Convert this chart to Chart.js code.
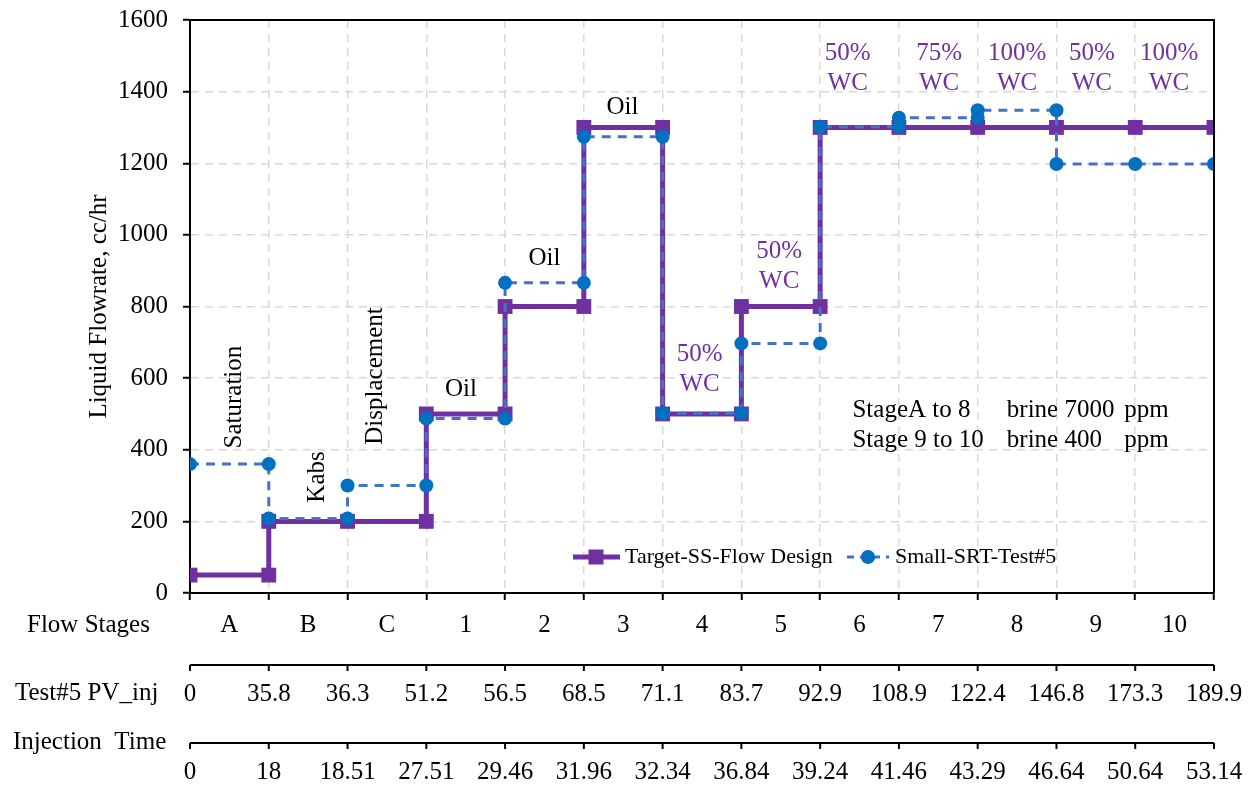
<!DOCTYPE html>
<html>
<head>
<meta charset="utf-8">
<script src="https://cdn.jsdelivr.net/npm/chart.js@4"></script>
<style>
  body { margin: 0; background: #fff; }
  #wrap { width: 1250px; height: 786px; }
</style>
</head>
<body>
<div id="wrap"><canvas id="flowChart" width="1250" height="786"></canvas></div>
<script>
// flow stages (between boundaries) and the two extra rows of boundary labels
const stages = ['A', 'B', 'C', '1', '2', '3', '4', '5', '6', '7', '8', '9', '10'];
const pvInj = ['0', '35.8', '36.3', '51.2', '56.5', '68.5', '71.1', '83.7', '92.9', '108.9', '122.4', '146.8', '173.3', '189.9'];
const injTime = ['0', '18', '18.51', '27.51', '29.46', '31.96', '32.34', '36.84', '39.24', '41.46', '43.29', '46.64', '50.64', '53.14'];

// step series: x = boundary index, y = flowrate cc/hr
const targetX = [0, 1, 1, 2, 3, 3, 4, 4, 5, 5, 6, 6, 7, 7, 8, 8, 9, 10, 11, 12, 13];
const targetY = [50, 50, 200, 200, 200, 500, 500, 800, 800, 1300, 1300, 500, 500, 800, 800, 1300, 1300, 1300, 1300, 1300, 1300];
const testX = [0, 1, 1, 2, 2, 3, 3, 4, 4, 5, 5, 6, 6, 7, 7, 8, 8, 9, 9, 10, 10, 11, 11, 12, 13];
const testY = [360, 360, 208, 208, 300, 300, 487, 487, 866, 866, 1274, 1274, 502, 502, 697, 697, 1302, 1302, 1327, 1327, 1348, 1348, 1198, 1198, 1198];

const yTicks = [0, 200, 400, 600, 800, 1000, 1200, 1400, 1600];

// text notes inside the plot (x in stage index, y in cc/hr)
const blackNotes = [
    { text: 'Saturation', x: 0.57, y: 547, rotate: true },
    { text: 'Kabs', x: 1.62, y: 324, rotate: true },
    { text: 'Displacement', x: 2.35, y: 606, rotate: true },
    { text: 'Oil', x: 3.44, y: 568 },
    { text: 'Oil', x: 4.5, y: 935 },
    { text: 'Oil', x: 5.49, y: 1357 }
];
const wcNotes = [
    { text: '50%', x: 6.47, y: 623 },
    { text: '50%', x: 7.48, y: 913 },
    { text: '50%', x: 8.35, y: 1466 },
    { text: '75%', x: 9.51, y: 1466 },
    { text: '100%', x: 10.5, y: 1466 },
    { text: '50%', x: 11.45, y: 1466 },
    { text: '100%', x: 12.43, y: 1466 }
];
const brineNotes = [
    ['StageA to 8', 'brine 7000', 'ppm'],
    ['Stage 9 to 10', 'brine 400', 'ppm']
];

const PURPLE = '#7030A0';
const BLUE = '#0070C0';
const BLUE_LINE = '#4472C4';
const FONT = '"Liberation Serif", "Times New Roman", serif';

Chart.defaults.font.family = FONT;
Chart.defaults.color = '#000';

const extras = {
    id: 'extras',
    afterDatasetsDraw(chart) {
        const ctx = chart.ctx;
        const xs = chart.scales.x;
        const ys = chart.scales.y;
        const area = chart.chartArea;
        ctx.save();

        // frame: top and right sides
        ctx.strokeStyle = '#000';
        ctx.lineWidth = 2;
        ctx.beginPath();
        ctx.moveTo(area.left, area.top);
        ctx.lineTo(area.right, area.top);
        ctx.lineTo(area.right, area.bottom);
        ctx.stroke();

        // notes
        ctx.font = '25px ' + FONT;
        ctx.textAlign = 'center';
        ctx.textBaseline = 'middle';
        ctx.fillStyle = '#000';
        blackNotes.forEach(n => {
            const px = xs.getPixelForValue(n.x);
            const py = ys.getPixelForValue(n.y);
            ctx.save();
            ctx.translate(px, py);
            if (n.rotate) ctx.rotate(-Math.PI / 2);
            ctx.fillText(n.text, 0, 0);
            ctx.restore();
        });
        ctx.fillStyle = PURPLE;
        wcNotes.forEach(n => {
            const px = xs.getPixelForValue(n.x);
            const py = ys.getPixelForValue(n.y);
            ctx.fillText(n.text, px, py - 15);
            ctx.fillText('WC', px, py + 15);
        });
        ctx.fillStyle = '#000';
        ctx.textAlign = 'left';
        const colX = [8.41, 10.37, 11.86];
        brineNotes.forEach((row, r) => {
            const py = ys.getPixelForValue(511 - r * 84);
            row.forEach((t, c) => ctx.fillText(t, xs.getPixelForValue(colX[c]), py));
        });

        // legend
        const ly = area.bottom - 36;
        ctx.strokeStyle = PURPLE;
        ctx.lineWidth = 5;
        ctx.beginPath();
        ctx.moveTo(573, ly);
        ctx.lineTo(620, ly);
        ctx.stroke();
        ctx.fillStyle = PURPLE;
        ctx.fillRect(596 - 7.5, ly - 7.5, 15, 15);
        ctx.strokeStyle = BLUE_LINE;
        ctx.lineWidth = 3;
        ctx.setLineDash([7, 6]);
        ctx.beginPath();
        ctx.moveTo(847, ly);
        ctx.lineTo(889, ly);
        ctx.stroke();
        ctx.setLineDash([]);
        ctx.fillStyle = BLUE;
        ctx.beginPath();
        ctx.arc(868, ly, 7, 0, Math.PI * 2);
        ctx.fill();
        ctx.fillStyle = '#000';
        ctx.font = '22px ' + FONT;
        ctx.fillText('Target-SS-Flow Design', 625, ly);
        ctx.fillText('Small-SRT-Test#5', 895, ly);

        // rows under the x axis
        ctx.font = '25px ' + FONT;
        ctx.textAlign = 'left';
        ctx.fillText('Flow Stages', 27, area.bottom + 32);
        ctx.fillText('Test#5 PV_inj', 15, area.bottom + 100);
        ctx.fillText('Injection  Time', 13, area.bottom + 149);

        ctx.textAlign = 'center';
        stages.forEach((s, i) => ctx.fillText(s, xs.getPixelForValue(i + 0.5), area.bottom + 32));

        const rows = [[pvInj, area.bottom + 72], [injTime, area.bottom + 150]];
        rows.forEach(([labels, lineY]) => {
            ctx.strokeStyle = '#000';
            ctx.lineWidth = 2;
            ctx.beginPath();
            ctx.moveTo(xs.getPixelForValue(0), lineY);
            ctx.lineTo(xs.getPixelForValue(13), lineY);
            labels.forEach((l, i) => {
                const px = xs.getPixelForValue(i);
                ctx.moveTo(px, lineY);
                ctx.lineTo(px, lineY + 6);
            });
            ctx.stroke();
            labels.forEach((l, i) => ctx.fillText(l, xs.getPixelForValue(i), lineY + 29));
        });
        ctx.restore();
    }
};

new Chart(document.getElementById('flowChart'), {
    type: 'line',
    data: {
        datasets: [{
            label: 'Target-SS-Flow Design',
            data: targetX.map((x, i) => ({ x: x, y: targetY[i] })),
            borderColor: PURPLE,
            backgroundColor: PURPLE,
            borderWidth: 5,
            pointStyle: 'rect',
            pointRadius: 10.5,
            pointBorderWidth: 0,
            pointBackgroundColor: PURPLE,
            tension: 0,
            order: 2
        }, {
            label: 'Small-SRT-Test#5',
            data: testX.map((x, i) => ({ x: x, y: testY[i] })),
            borderColor: BLUE_LINE,
            backgroundColor: BLUE,
            borderWidth: 3,
            borderDash: [9, 7],
            pointStyle: 'circle',
            pointRadius: 7,
            pointBorderWidth: 0,
            pointBackgroundColor: BLUE,
            tension: 0,
            order: 1
        }]
    },
    options: {
        responsive: false,
        animation: false,
        layout: { padding: { top: 20, right: 36, left: 0, bottom: 0 } },
        scales: {
            x: {
                type: 'linear',
                min: 0,
                max: 13,
                ticks: { display: false, stepSize: 1 },
                grid: { color: '#d9d9d9', lineWidth: 1.5, tickColor: '#000', tickLength: 7, tickWidth: 2, tickBorderDash: [] },
                border: { color: '#000', width: 2, dash: [8, 6] },
                afterFit: scale => { scale.height = 193; }
            },
            y: {
                min: 0,
                max: 1600,
                afterBuildTicks: scale => { scale.ticks = yTicks.map(v => ({ value: v })); },
                ticks: { font: { size: 25 }, color: '#000', padding: 15, callback: v => String(v) },
                grid: { color: '#d9d9d9', lineWidth: 1.5, tickColor: '#000', tickLength: 7, tickWidth: 2, tickBorderDash: [] },
                border: { color: '#000', width: 2, dash: [8, 6] },
                title: { display: true, text: 'Liquid Flowrate, cc/hr', font: { size: 25 }, color: '#000', padding: { top: 84, bottom: 0 } },
                afterFit: scale => {
                    scale.width = 190;
                    scale.paddingTop = 0;
                    scale.paddingBottom = 0;
                }
            }
        },
        plugins: {
            legend: { display: false },
            tooltip: { enabled: false }
        }
    },
    plugins: [extras]
});
</script>
</body>
</html>
